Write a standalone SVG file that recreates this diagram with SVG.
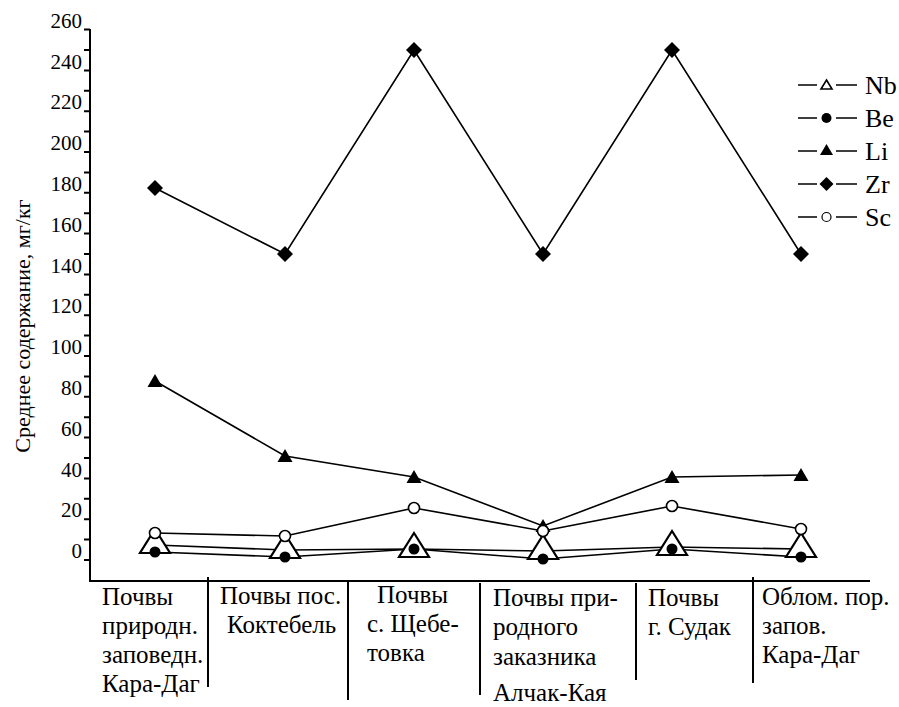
<svg xmlns="http://www.w3.org/2000/svg" width="899" height="707" viewBox="0 0 899 707" font-family="'Liberation Serif', 'Times New Roman', serif">
<style>
text{font-family:"Liberation Serif","Times New Roman",serif;fill:#000}
.tick{font-size:21px;text-anchor:end}
.lab{font-size:25px}
.leg{font-size:26px}
.axis{stroke:#000;stroke-width:2;fill:none}
.sep{stroke:#000;stroke-width:2;fill:none}
.ln{stroke:#000;stroke-width:1.6;fill:none}
.f{fill:#000;stroke:none}
.o{fill:#fff;stroke:#000;stroke-width:1.6}
.nb{fill:#fff;stroke:#000;stroke-width:2.2}
</style>
<defs>
<path id="zr" d="M0,-8 L8,0 L0,8 L-8,0Z" class="f"/>
<path id="li" d="M0,-7 L7.5,6 L-7.5,6Z" class="f"/>
<circle id="be" r="5.5" class="f"/>
<circle id="sc" r="5.5" class="o"/>
<path id="nbt" d="M0,-16 L15,8 L-15,8Z" class="nb"/>
<path id="nbs" d="M0,-5 L5.5,4 L-5.5,4Z" class="o"/>
</defs>
<rect width="899" height="707" fill="#fff"/>
<g id="axes">
<path class="axis" d="M90 29 V581 H870"/>
<path class="axis" d="M84 29.6h6M84 50h6M84 70.4h6M84 90.8h6M84 111.2h6M84 131.6h6M84 152h6M84 172.4h6M84 192.8h6M84 213.2h6M84 233.6h6M84 254h6M84 274.4h6M84 294.8h6M84 315.2h6M84 335.6h6M84 356h6M84 376.4h6M84 396.8h6M84 417.2h6M84 437.6h6M84 458h6M84 478.4h6M84 498.8h6M84 519.2h6M84 539.6h6M84 560h6"/>
<text class="tick" x="82" y="28">260</text>
<text class="tick" x="82" y="68.5">240</text>
<text class="tick" x="82" y="109">220</text>
<text class="tick" x="82" y="150">200</text>
<text class="tick" x="82" y="191">180</text>
<text class="tick" x="82" y="231.5">160</text>
<text class="tick" x="82" y="272.5">140</text>
<text class="tick" x="82" y="313">120</text>
<text class="tick" x="82" y="354">100</text>
<text class="tick" x="82" y="395">80</text>
<text class="tick" x="82" y="435.5">60</text>
<text class="tick" x="82" y="476.5">40</text>
<text class="tick" x="82" y="517">20</text>
<text class="tick" x="82" y="558">0</text>
<text transform="translate(30 326) rotate(-90)" text-anchor="middle" style="font-size:22px">Среднее содержание, мг/кг</text>
<path class="sep" d="M208 577V687M348 580V700M480 583V695M636 583V680M753 577V683"/>
</g>
<g id="xlabels">
<text class="lab" x="102" y="605">Почвы</text>
<text class="lab" x="102" y="634">природн.</text>
<text class="lab" x="102" y="663">заповедн.</text>
<text class="lab" x="102" y="692">Кара-Даг</text>
<text class="lab" x="220" y="604">Почвы пос.</text>
<text class="lab" x="227" y="633">Коктебель</text>
<text class="lab" x="377" y="603">Почвы</text>
<text class="lab" x="367" y="632">с. Щебе-</text>
<text class="lab" x="367" y="661">товка</text>
<text class="lab" x="493" y="606">Почвы при-</text>
<text class="lab" x="493" y="635">родного</text>
<text class="lab" x="493" y="665">заказника</text>
<text class="lab" x="493" y="701">Алчак-Кая</text>
<text class="lab" x="648" y="606">Почвы</text>
<text class="lab" x="648" y="635">г. Судак</text>
<text class="lab" x="762" y="605">Облом. пор.</text>
<text class="lab" x="762" y="634">запов.</text>
<text class="lab" x="762" y="663">Кара-Даг</text>
</g>
<g id="connectors">
<polyline class="ln" points="155,188 285,254 414,50 543,254 672,50 801,254"/>
<polyline class="ln" points="155,381 285,456 414,477 543,526 672,477 801,475"/>
<polyline class="ln" points="155,533 285,536 414,508 543,531 672,506 801,529"/>
<polyline class="ln" points="155,545 285,550 414,549 543,551 672,547 801,549"/>
<polyline class="ln" points="155,552 285,557 414,549 543,559 672,549 801,557"/>
</g>
<g id="series-Nb">
<use href="#nbt" x="155" y="545"/><use href="#nbt" x="285" y="550"/><use href="#nbt" x="414" y="549"/><use href="#nbt" x="543" y="551"/><use href="#nbt" x="672" y="547"/><use href="#nbt" x="801" y="549"/>
</g>
<g id="series-Be">
<use href="#be" x="155" y="552"/><use href="#be" x="285" y="557"/><use href="#be" x="414" y="549"/><use href="#be" x="543" y="559"/><use href="#be" x="672" y="549"/><use href="#be" x="801" y="557"/>
</g>
<g id="series-Li">
<use href="#li" x="155" y="381"/><use href="#li" x="285" y="456"/><use href="#li" x="414" y="477"/><use href="#li" x="543" y="526"/><use href="#li" x="672" y="477"/><use href="#li" x="801" y="475"/>
</g>
<g id="series-Sc">
<use href="#sc" x="155" y="533"/><use href="#sc" x="285" y="536"/><use href="#sc" x="414" y="508"/><use href="#sc" x="543" y="531"/><use href="#sc" x="672" y="506"/><use href="#sc" x="801" y="529"/>
</g>
<g id="series-Zr">
<use href="#zr" x="155" y="188"/><use href="#zr" x="285" y="254"/><use href="#zr" x="414" y="50"/><use href="#zr" x="543" y="254"/><use href="#zr" x="672" y="50"/><use href="#zr" x="801" y="254"/>
</g>
<g id="legend">
<path class="ln" d="M798 85h19M836 85h21M798 118h19M836 118h21M798 151h19M836 151h21M798 184h19M836 184h21M798 217h19M836 217h21"/>
<use href="#nbs" x="826.5" y="85"/>
<circle cx="826.5" cy="118" r="5" class="f"/>
<path d="M826.5,144 L833,155 L820,155Z" class="f"/>
<path d="M826.5,177 L833.5,184 L826.5,191 L819.5,184Z" class="f"/>
<circle cx="826.5" cy="217" r="4.5" class="o" style="stroke-width:1.2"/>
<text class="leg" x="865" y="94">Nb</text>
<text class="leg" x="865" y="127">Be</text>
<text class="leg" x="865" y="160">Li</text>
<text class="leg" x="865" y="193">Zr</text>
<text class="leg" x="865" y="226">Sc</text>
</g>
</svg>
